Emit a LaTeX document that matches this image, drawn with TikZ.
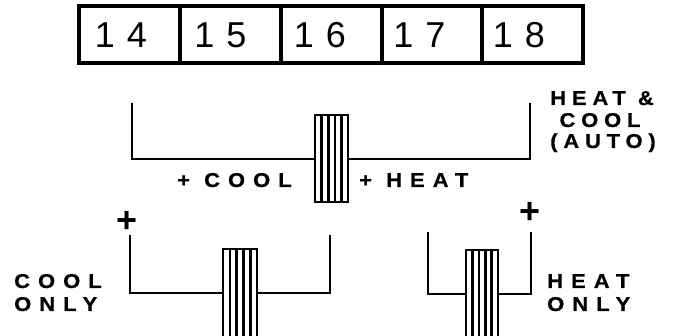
\documentclass[tikz,border=0pt]{standalone}
\usepackage{fontspec}
\setmainfont{Liberation Sans}
\newfontfamily\labwide{Liberation Sans Bold}[LetterSpace=40, FakeStretch=1.1, FakeBold=0.5]
\newfontfamily\labmid{Liberation Sans Bold}[LetterSpace=29, FakeStretch=1.1, FakeBold=0.5]
\newfontfamily\plusfont{Liberation Sans Bold}
\tikzset{
  cell/.style={draw, line width=3.4pt, minimum width=101pt, minimum height=57pt, inner sep=0pt},
  digit/.style={font=\fontsize{36}{40}\selectfont, inner sep=0pt, anchor=base},
  wire/.style={line width=2.8pt, line join=miter},
  slid/.style={line width=2.6pt},
  labw/.style={font=\labwide\fontsize{20}{22}\selectfont, inner sep=0pt},
  labm/.style={font=\labmid\fontsize{20}{22}\selectfont, inner sep=0pt},
  plus/.style={font=\plusfont\fontsize{36}{40}\selectfont, inner sep=0pt},
}
\newcommand\myslider[4]{%
  \draw[slid] (#1,#2) rectangle (#3,#4);
  \foreach \k in {1,2,3,4}{\draw[slid] ({#1+(#3-#1)*\k/5},#2) -- ({#1+(#3-#1)*\k/5},#4);}
}
\begin{document}
\begin{tikzpicture}[x=1pt,y=-1pt]
\useasboundingbox (0,0) rectangle (675,336);
% top terminal cells
\node[cell] (c14) at (129.5,34.5) {};
\node[cell] (c15) at (230.5,34.5) {};
\node[cell] (c16) at (331.5,34.5) {};
\node[cell] (c17) at (432,34.5) {};
\node[cell] (c18) at (532.5,34.5) {};
\node[digit] (d14) at (121,48) {1\kern12pt 4};
\node[digit] (d15) at (220.5,48) {1\kern12pt 5};
\node[digit] (d16) at (320,48) {1\kern12pt 6};
\node[digit] (d17) at (419.5,48) {1\kern12pt 7};
\node[digit] (d18) at (519,48) {1\kern12pt 8};
% middle switch (auto)
\draw[wire] (132,103) -- (132,159) -- (315,159);
\draw[wire] (348,159) -- (530,159) -- (530,103);
\myslider{315}{115}{348}{202}
\node[labw, anchor=base west] (lcool) at (177,187) {+ COOL};
\node[labw, anchor=base west] (lheat) at (359,187) {+ HEAT};
\node[labm, anchor=base] (la1) at (602,105) {HEAT \&};
\node[labm, anchor=base] (la2) at (600,127) {COOL};
\node[labm, anchor=base] (la3) at (603,148) {(AUTO)};
% cool only
\draw[wire] (130,235) -- (130,293) -- (223,293);
\draw[wire] (257,293) -- (330,293) -- (330,235);
\myslider{223}{249}{257}{345}
\node[plus] (p1) at (127,222) {+};
\node[labw, anchor=base west] (lc1) at (14,288) {COOL};
\node[labw, anchor=base west] (lc2) at (14,311) {ONLY};
% heat only
\draw[wire] (428,232) -- (428,294) -- (466,294);
\draw[wire] (498,294) -- (531,294) -- (531,232);
\myslider{466}{250}{498}{345}
\node[plus] (p2) at (530,213) {+};
\node[labw, anchor=base west] (lh1) at (547,288) {HEAT};
\node[labw, anchor=base west] (lh2) at (547,311) {ONLY};
\end{tikzpicture}
\end{document}
